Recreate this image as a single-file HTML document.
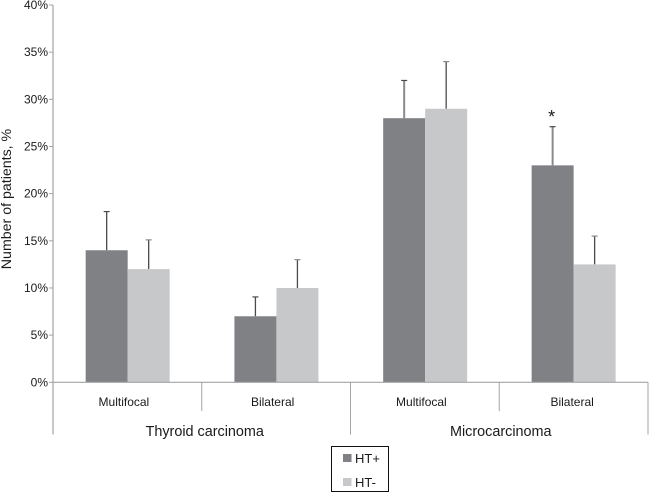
<!DOCTYPE html>
<html>
<head>
<meta charset="utf-8">
<style>
html,body{margin:0;padding:0;background:#fff;width:650px;height:492px;overflow:hidden}
svg{display:block;font-family:"Liberation Sans",sans-serif}
</style>
</head>
<body>
<svg id="chart" width="650" height="492" viewBox="0 0 650 492" xmlns="http://www.w3.org/2000/svg">
  <text x="0" y="0" transform="translate(11,199) rotate(-90)" text-anchor="middle" font-size="14.2" fill="#1a1a1a">Number of patients, %</text>
  <g>
    <rect x="331.5" y="446.5" width="57" height="45" fill="#fff" stroke="#111" stroke-width="1"/>
    <rect x="343" y="454" width="8.5" height="8" fill="#808184"/>
    <text x="355" y="463" font-size="13" fill="#1a1a1a">HT+</text>
    <rect x="343" y="478" width="8.5" height="8" fill="#c7c8ca"/>
    <text x="355" y="487" font-size="13" fill="#1a1a1a">HT-</text>
  </g>
</svg>
<script>
var subCategories = ['Multifocal', 'Bilateral', 'Multifocal', 'Bilateral'];
var groupLabels = ['Thyroid carcinoma', 'Microcarcinoma'];
var tickValues = [0, 5, 10, 15, 20, 25, 30, 35, 40];
var htPlusValues = [14, 7, 28, 23];
var htMinusValues = [12, 10, 29, 12.5];
var htPlusErrorTops = [18.1, 9.05, 32, 27.1];
var htMinusErrorTops = [15.1, 13, 34, 15.5];
var significanceFlags = ['', '', '', '*'];

var svg = document.getElementById('chart');
var NS = 'http://www.w3.org/2000/svg';
var axisLeft = 53, axisRight = 648, y0 = 382.3, yTop = 5, yMax = 40, barW = 42;
var catW = (axisRight - axisLeft) / subCategories.length;

function yScale(v) { return y0 - (v / yMax) * (y0 - yTop); }
function catX(i) { return axisLeft + catW * i; }
function make(tag, attrs, parent) {
  var el = document.createElementNS(NS, tag);
  for (var k in attrs) el.setAttribute(k, attrs[k]);
  (parent || svg).appendChild(el);
  return el;
}
function line(x1, y1, x2, y2, color, width, name) {
  var el = make('line', { x1: x1, y1: y1, x2: x2, y2: y2, stroke: color, 'stroke-width': width });
  
  
  return el;
}
function label(x, y, str, size, anchor, name) {
  var el = make('text', { x: x, y: y, 'font-size': size, 'text-anchor': anchor, fill: '#1a1a1a' });
  el.textContent = str;
  
  
  return el;
}
function bar(x, v, color, name) {
  var el = make('rect', { x: x, y: yScale(v), width: barW, height: y0 - yScale(v), fill: color });
  
  
  return el;
}
function whisker(cx, v, top, stemColor, stemWidth, capColor, name) {
  line(cx, yScale(v), cx, yScale(top), stemColor, stemWidth, name);
  line(cx - 3, yScale(top), cx + 3, yScale(top), capColor, 1.2, name + '-cap');
}

var axisColor = '#a3a4a6';
subCategories.forEach(function (c, i) {
  var center = catX(i) + catW / 2 + (i === 3 ? 0 : 0.3);
  var plusStem = i >= 2 ? '#8a8a8c' : '#4a4a4c';
  var plusStemWidth = i >= 2 ? 2 : 1.3;
  whisker(center - barW / 2, htPlusValues[i], htPlusErrorTops[i], plusStem, plusStemWidth, '#4a4a4c', 'error-bar-ht-plus-' + (i + 1));
  whisker(center + barW / 2, htMinusValues[i], htMinusErrorTops[i], '#4a4a4c', 1.3, '#8a8a8c', 'error-bar-ht-minus-' + (i + 1));
  bar(center - barW, htPlusValues[i], '#808184', 'bar-ht-plus-' + (i + 1));
  bar(center, htMinusValues[i], '#c7c8ca', 'bar-ht-minus-' + (i + 1));
  label(catX(i) + catW / 2 - 3.5 + (i === 3 ? 2 : 0), 406, c, 12, 'middle', 'category-label-' + (i + 1));
  if (significanceFlags[i]) {
    label(center - barW / 2 - 1, yScale(htPlusErrorTops[i]) - 3.5, significanceFlags[i], 18, 'middle', 'significance-marker');
  }
});

tickValues.forEach(function (t) {
  line(49, yScale(t), axisLeft, yScale(t), axisColor, 1, 'y-tick-' + t);
  label(48, yScale(t) + 4, t + '%', 12, 'end', 'y-tick-label-' + t);
});
line(axisLeft, yTop, axisLeft, 434.5, axisColor, 1.2, 'y-axis');
line(axisLeft, y0, axisRight, y0, axisColor, 1.2, 'x-axis');
subCategories.forEach(function (c, i) {
  if (i === 0) return;
  line(catX(i), y0, catX(i), i % 2 === 0 ? 434.5 : 411, axisColor, 1, 'category-divider-' + i);
});
line(axisRight, y0, axisRight, 434.5, axisColor, 1, 'category-divider-end');
groupLabels.forEach(function (g, i) {
  label(catX(i * 2) + catW + (i === 0 ? 3 : 1.5), 436, g, 14.4, 'middle', 'group-label-' + (i + 1));
});
</script>
</body>
</html>
